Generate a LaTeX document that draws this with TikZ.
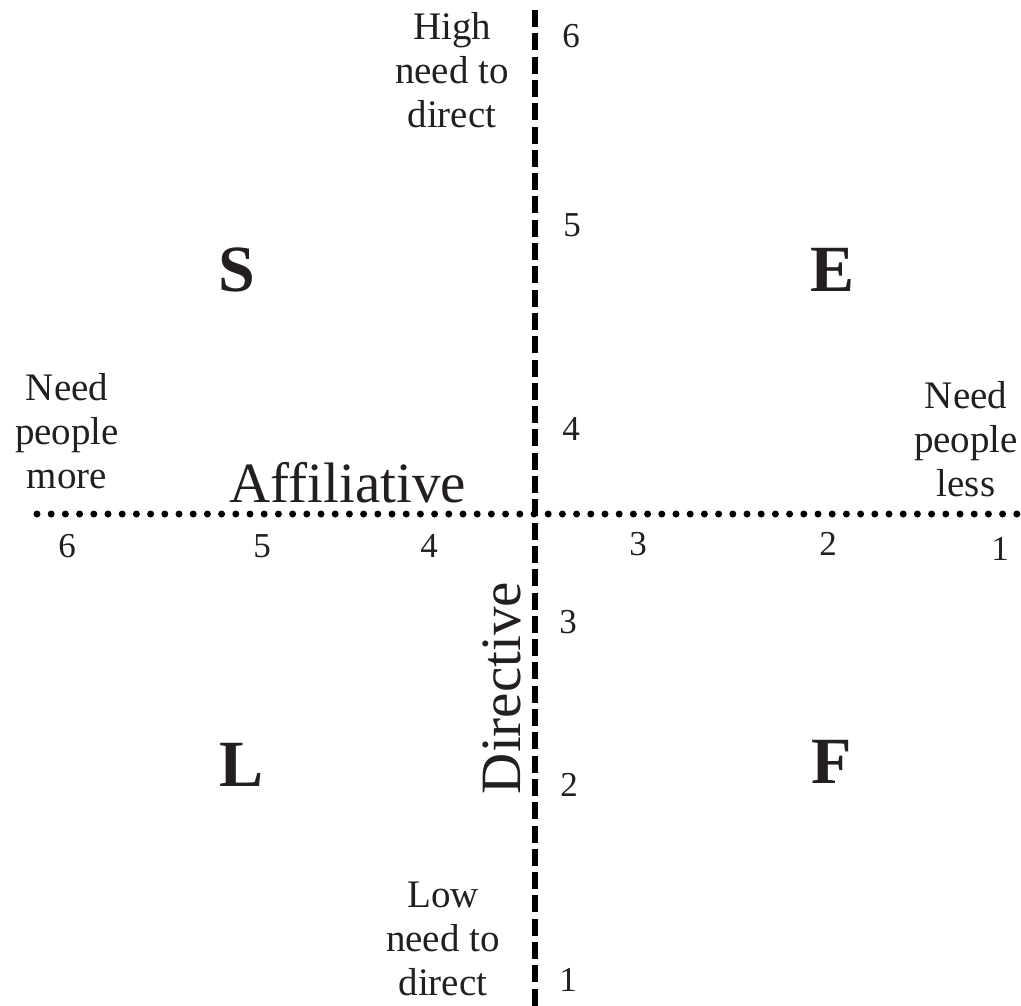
\documentclass[tikz,border=0pt]{standalone}
\usepackage{fontspec}
\setmainfont{Liberation Serif}
\definecolor{ink}{RGB}{35,31,32}
\begin{document}
\begin{tikzpicture}[x=1pt,y=-1pt,
  lab/.style={text=ink, font=\fontsize{39}{44}\selectfont, align=center, inner sep=0pt},
  num/.style={text=ink, font=\fontsize{35}{40}\selectfont, inner sep=0pt},
  big/.style={text=ink, font=\fontsize{66}{72}\selectfont\bfseries, inner sep=0pt},
  axisname/.style={text=ink, font=\fontsize{57}{64}\selectfont, inner sep=0pt, anchor=base},
  vaxis/.style={line width=6pt, dash pattern=on 17pt off 6.3pt},
  haxis/.style={line width=7pt, line cap=round, dash pattern=on 0pt off 14.2pt}]
\useasboundingbox (0,0) rectangle (1021,1005);
% axes
\coordinate (vtop) at (535,10);
\coordinate (vbot) at (535,1012);
\coordinate (hleft) at (37,514);
\coordinate (hright) at (1030,514);
\draw[haxis] (hleft) -- (hright);
\draw[vaxis] (vtop) -- (vbot);
% axis names
\node[axisname] (aff) at (348,502) {Affiliative};
\node[axisname, rotate=90] (dir) at (520,688) {Directive};
% quadrant letters
\node[big] (S) at (237,270) {S};
\node[big] (E) at (833,270) {E};
\node[big] (L) at (242,765) {L};
\node[big] (F) at (832,762) {F};
% end labels
\node[lab] (high) at (452,70) {High\\need to\\direct};
\node[lab] (low) at (443,939) {Low\\need to\\direct};
\node[lab] (more) at (67,431) {Need\\people\\more};
\node[lab] (less) at (966,439) {Need\\people\\less};
% vertical scale
\node[num] (v6) at (571,36) {6};
\node[num] (v5) at (572,225) {5};
\node[num] (v4) at (571,429) {4};
\node[num] (v3) at (568,622) {3};
\node[num] (v2) at (569,785) {2};
\node[num] (v1) at (568,980) {1};
% horizontal scale
\node[num] (h6) at (67,546) {6};
\node[num] (h5) at (262,546) {5};
\node[num] (h4) at (429,546) {4};
\node[num] (h3) at (638,544) {3};
\node[num] (h2) at (828,544) {2};
\node[num] (h1) at (1000,549) {1};
\end{tikzpicture}
\end{document}
